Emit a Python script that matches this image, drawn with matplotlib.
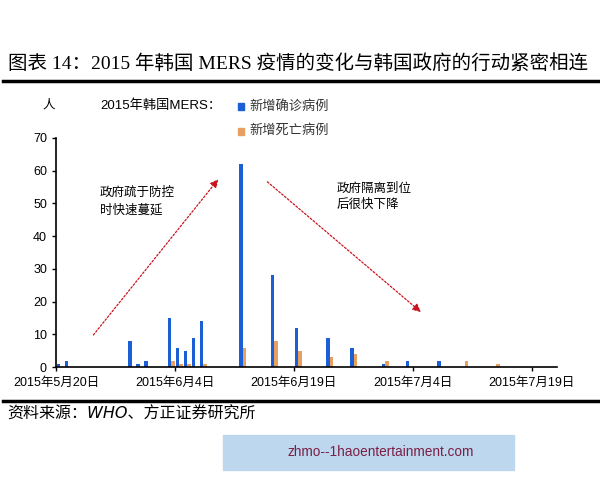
import matplotlib.pyplot as plt
from matplotlib.patches import Rectangle

plt.rcParams['font.family'] = ['Liberation Sans', 'Noto Sans CJK SC', 'DejaVu Sans']

# days counted from 2015-05-20
days = [0, 1, 9, 10, 11, 14, 15, 16, 17, 18, 23, 27, 30, 34, 37, 41, 44, 48, 51, 55]
confirmed = [1, 2, 8, 1, 2, 15, 6, 5, 9, 14, 62, 28, 12, 9, 6, 1, 2, 2, 0, 0]
deaths = [0, 0, 0, 0, 0, 2, 1, 1, 0, 1, 6, 8, 5, 3, 4, 2, 0, 0, 2, 1]
tick_days = [0, 15, 30, 45, 60]
tick_labels = ["2015年5月20日", "2015年6月4日", "2015年6月19日", "2015年7月4日", "2015年7月19日"]

blue = "#1a5fd6"
orange = "#e8a060"

fig = plt.figure(figsize=(6, 4.8), dpi=100)
ax = fig.add_axes([0.0933, 0.2348, 0.835, 0.4783])

w = 0.44
ax.bar([d + 0.33 for d in days], confirmed, width=w, color=blue)
ax.bar([d + 0.77 for d in days], deaths, width=w, color=orange)

ax.set_xlim(0, 63.2)
ax.set_ylim(0, 70)
ax.set_yticks(range(0, 71, 10))
ax.set_xticks(tick_days)
ax.set_xticklabels(tick_labels)
ax.tick_params(axis="both", labelsize=9, length=3, width=1, colors="black")
ax.tick_params(axis="x", pad=4)
for s in ["top", "right"]:
    ax.spines[s].set_visible(False)
ax.spines["left"].set_linewidth(1.2)
ax.spines["bottom"].set_linewidth(1.2)

# arrows and notes
arrow_style = dict(arrowstyle="-|>", color="#c8141e", lw=0.9, linestyle=(0, (1.5, 1.5)),
                   mutation_scale=12)
ax.annotate("", xy=(20.7, 58), xytext=(4.5, 9.2), arrowprops=arrow_style)
ax.annotate("", xy=(46.3, 16.3), xytext=(26.4, 57.1), arrowprops=arrow_style)
ax.text(5.5, 50.5, "政府疏于防控\n时快速蔓延", fontsize=9, va="center", ha="left",
        linespacing=1.5)
ax.text(35.4, 52, "政府隔离到位\n后很快下降", fontsize=9, va="center", ha="left",
        linespacing=1.5)

# unit and legend
fig.text(42 / 600, 1 - 106 / 480, "人", fontsize=9, va="center", ha="left")
fig.text(100 / 600, 1 - 106 / 480, "2015年韩国MERS：", fontsize=9.5, va="center", ha="left")
fig.patches.append(Rectangle((238 / 600, 1 - 110 / 480), 6 / 600, 7 / 480,
                             transform=fig.transFigure, color=blue))
fig.patches.append(Rectangle((238 / 600, 1 - 135 / 480), 6 / 600, 7 / 480,
                             transform=fig.transFigure, color=orange))
fig.text(249 / 600, 1 - 106 / 480, "新增确诊病例", fontsize=9.5, va="center", ha="left",
         color="#333333")
fig.text(249 / 600, 1 - 131 / 480, "新增死亡病例", fontsize=9.5, va="center", ha="left",
         color="#333333")

# title and rules
fig.text(8 / 600, 1 - 63 / 480, "图表 14：2015 年韩国 MERS 疫情的变化与韩国政府的行动紧密相连",
         fontsize=14, va="center", ha="left",
         family=["Liberation Serif", "Noto Sans CJK SC"])
fig.add_artist(plt.Line2D([3 / 600, 598 / 600], [1 - 81 / 480, 1 - 81 / 480],
                          color="black", lw=2.5, transform=fig.transFigure))
fig.add_artist(plt.Line2D([3 / 600, 598 / 600], [1 - 401 / 480, 1 - 401 / 480],
                          color="black", lw=2.5, transform=fig.transFigure))
fig.text(7 / 600, 1 - 414 / 480, "资料来源：WHO、方正证券研究所", fontsize=11.5,
         va="center", ha="left", style="italic",
         family=["DejaVu Sans", "Noto Sans CJK SC"])

# watermark box
fig.patches.append(Rectangle((223 / 600, 1 - 470 / 480), 291 / 600, 35 / 480,
                             transform=fig.transFigure, color="#bdd7ee"))
fig.text(381 / 600, 1 - 452 / 480, "zhmo--1haoentertainment.com", fontsize=9.8,
         va="center", ha="center", color="#7a1f45")

fig.savefig("out.png", dpi=100)
